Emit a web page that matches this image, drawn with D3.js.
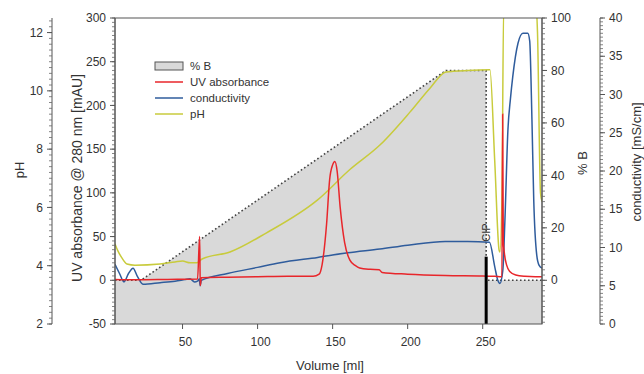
<!DOCTYPE html>
<html>
<head>
<meta charset="utf-8">
<script src="https://cdn.jsdelivr.net/npm/d3@7"></script>
<style>
  body { margin: 0; background: #fff; }
  svg text { font-family: "Liberation Sans", Arial, sans-serif; fill: #333; }
</style>
</head>
<body>
<svg id="chart" width="644" height="374"></svg>
<script>
// gradient %B (volume ml, %)
const percentB = [[5, 0], [22.3, 0], [225.5, 80], [252.3, 80], [252.3, 0], [289.5, 0]];

// UV absorbance @ 280 nm (volume ml, mAU)
const uvData = [
  [5, 1], [20, 0.5], [40, 1], [60, 1.5], [61.4, 50], [61.8, -6], [62.5, 3],
  [80, 3.5], [100, 4], [120, 4.5], [137, 4.5], [141, 7], [143, 18], [146, 65],
  [148, 115], [150, 132], [151.5, 136], [153, 125], [155, 84], [158, 43],
  [161.5, 23], [165, 17], [168, 14], [175, 12.5], [181, 12], [183, 9],
  [200, 7], [225, 5.5], [250, 5], [258, 4.5], [262.8, 4], [263.3, 190],
  [263.7, 45], [264.5, 30], [266, 17], [268, 10], [272, 6], [278, 4.5],
  [285, 4], [289.5, 4]
];

// conductivity (volume ml, mS/cm)
const condData = [
  [5, 7.8], [8, 6.6], [11, 5.5], [14, 6.6], [17, 7.3], [20, 6.2], [23.6, 5.2],
  [35, 5.4], [45, 5.6], [51.6, 5.8], [55, 5.9], [58, 5.5], [60, 5.6], [61.2, 5.9],
  [61.7, 5.0], [62.5, 5.7], [80, 6.6], [100, 7.4], [115, 8.0], [140, 8.7],
  [160, 9.3], [181.5, 9.8], [200, 10.3], [225, 10.8], [240, 10.8], [254.5, 10.7],
  [258, 7.5], [260, 5.75], [261.5, 5.3], [263.4, 7.0], [264.8, 13.6],
  [266.8, 25.4], [268.5, 29.5], [270, 32.3], [273.5, 36.7], [276.8, 38],
  [280, 38], [281.3, 37], [282.8, 26.7], [284, 16.2], [286, 9], [287.5, 7.7],
  [289.5, 7.3]
];

// pH (volume ml, pH)
const phData = [
  [5, 4.75], [7, 4.5], [9.7, 4.26], [13, 4.06], [18.3, 4.02], [35, 4.06],
  [45, 4.13], [50, 4.16], [55, 4.1], [59.6, 4.1], [63, 4.23], [81.6, 4.47],
  [106, 5.13], [140, 6.26], [161.5, 7.3], [181.5, 8.14], [201.5, 9.27],
  [215, 10.1], [225.5, 10.65], [240, 10.7], [254.8, 10.72], [258, 7.6],
  [260.9, 4.54], [261.5, 4.47], [262.8, 6.26], [264, 13], [285.5, 13],
  [286.5, 12], [288.5, 6.5], [289.5, 6.2]
];

const xTicks = [50, 100, 150, 200, 250];
const uvTicks = [-50, 0, 50, 100, 150, 200, 250, 300];
const phTicks = [2, 4, 6, 8, 10, 12];
const bTicks = [0, 20, 40, 60, 80, 100];
const condTicks = [0, 5, 10, 15, 20, 25, 30, 35, 40];

const cipVolume = 252.3;
const cipTop = 27;

const svg = d3.select('#chart');
const pLeft = 115, pRight = 542, pTop = 18, pBottom = 324;

const x = d3.scaleLinear().domain([5, 289.5]).range([pLeft, pRight]);
const yUV = d3.scaleLinear().domain([-50, 300]).range([pBottom, pTop]);
const yB = d3.scaleLinear().domain([-50 / 3, 100]).range([pBottom, pTop]);
const yCond = d3.scaleLinear().domain([0, 40]).range([pBottom, pTop]);
const yPH = d3.scaleLinear().domain([2, 12.5]).range([pBottom, pTop]);

svg.append('defs').append('clipPath').attr('id', 'plot')
  .append('rect')
  .attr('x', pLeft).attr('y', pTop)
  .attr('width', pRight - pLeft).attr('height', pBottom - pTop);

const plot = svg.append('g').attr('clip-path', 'url(#plot)');

// %B area and dotted outline
plot.append('path')
  .datum(percentB)
  .attr('d', d3.area().x(d => x(d[0])).y0(pBottom).y1(d => yB(d[1])))
  .attr('fill', '#d9d9d9');

plot.append('path')
  .datum(percentB)
  .attr('d', d3.line().x(d => x(d[0])).y(d => yB(d[1])))
  .attr('fill', 'none')
  .attr('stroke', '#444')
  .attr('stroke-width', 1.6)
  .attr('stroke-dasharray', '1.6,2.4');

const drawLine = (data, yScale, color) => plot.append('path')
  .datum(data)
  .attr('d', d3.line().curve(d3.curveMonotoneX).x(d => x(d[0])).y(d => yScale(d[1])))
  .attr('fill', 'none')
  .attr('stroke', color)
  .attr('stroke-width', 1.5);

drawLine(phData, yPH, '#c8cb3c');
drawLine(condData, yCond, '#2f5c9c');
drawLine(uvData, yUV, '#e8262b');

// CIP marker
plot.append('line')
  .attr('x1', x(cipVolume)).attr('x2', x(cipVolume))
  .attr('y1', yUV(cipTop)).attr('y2', pBottom)
  .attr('stroke', '#000')
  .attr('stroke-width', 3);

svg.append('text')
  .attr('transform', `translate(${x(cipVolume) + 4},${yUV(cipTop) - 15}) rotate(-90)`)
  .attr('font-size', '11px')
  .text('CIP');

// frame
svg.append('rect')
  .attr('x', pLeft).attr('y', pTop)
  .attr('width', pRight - pLeft).attr('height', pBottom - pTop)
  .attr('fill', 'none')
  .attr('stroke', '#555')
  .attr('stroke-width', 1);

// generic vertical axis drawer
function vAxis(xPos, scale, ticks, minorStep, dir, fmt) {
  const g = svg.append('g');
  const [d0, d1] = scale.domain();
  g.append('line')
    .attr('x1', xPos).attr('x2', xPos)
    .attr('y1', scale(d0)).attr('y2', scale(d1))
    .attr('stroke', '#555');
  const minors = d3.range(Math.ceil(d0 / minorStep) * minorStep, d1 + 1e-9, minorStep);
  g.selectAll('.minor')
    .data(minors)
    .join('line')
    .attr('x1', xPos).attr('x2', xPos + dir * 3)
    .attr('y1', d => scale(d)).attr('y2', d => scale(d))
    .attr('stroke', '#666')
    .attr('stroke-width', 0.8);
  g.selectAll('.major')
    .data(ticks)
    .join('line')
    .attr('x1', xPos).attr('x2', xPos + dir * 5)
    .attr('y1', d => scale(d)).attr('y2', d => scale(d))
    .attr('stroke', '#555');
  g.selectAll('text')
    .data(ticks)
    .join('text')
    .attr('x', xPos + dir * 9)
    .attr('y', d => scale(d))
    .attr('dy', '0.35em')
    .attr('text-anchor', dir < 0 ? 'end' : 'start')
    .attr('font-size', '12px')
    .text(fmt || (d => d));
}

vAxis(52, yPH, phTicks, 0.2, -1);
vAxis(pLeft, yUV, uvTicks, 5, -1);
vAxis(pRight, yB, bTicks, 2, 1);
vAxis(600, yCond, condTicks, 0.5, 1);

// x axis
const xg = svg.append('g');
xg.selectAll('line')
  .data(xTicks)
  .join('line')
  .attr('x1', d => x(d)).attr('x2', d => x(d))
  .attr('y1', pBottom).attr('y2', pBottom + 5)
  .attr('stroke', '#555');
xg.selectAll('text')
  .data(xTicks)
  .join('text')
  .attr('x', d => x(d) + 3)
  .attr('y', pBottom + 22)
  .attr('text-anchor', 'middle')
  .attr('font-size', '12px')
  .text(d => d);

// axis titles
svg.append('text')
  .attr('x', 330).attr('y', 370)
  .attr('text-anchor', 'middle')
  .attr('font-size', '13px')
  .text('Volume [ml]');

const vTitle = (tx, ty, label, size) => svg.append('text')
  .attr('transform', `translate(${tx},${ty}) rotate(-90)`)
  .attr('text-anchor', 'middle')
  .attr('font-size', size)
  .text(label);

vTitle(24, 170, 'pH', '13px');
vTitle(82, 178, 'UV absorbance @ 280 nm [mAU]', '14px');
vTitle(587, 163, '% B', '13px');
vTitle(641, 162, 'conductivity [mS/cm]', '13px');

// legend
const legendItems = ['% B', 'UV absorbance', 'conductivity', 'pH'];
const legendColors = ['#d9d9d9', '#e8262b', '#2f5c9c', '#c8cb3c'];
const lg = svg.append('g').attr('transform', 'translate(155,66)');
legendItems.forEach((name, i) => {
  const yy = i * 16;
  if (i === 0) {
    lg.append('rect')
      .attr('x', 0).attr('y', yy - 4)
      .attr('width', 28).attr('height', 8)
      .attr('fill', legendColors[i])
      .attr('stroke', '#555');
  } else {
    lg.append('line')
      .attr('x1', 0).attr('x2', 28)
      .attr('y1', yy).attr('y2', yy)
      .attr('stroke', legendColors[i])
      .attr('stroke-width', 1.5);
  }
  lg.append('text')
    .attr('x', 35).attr('y', yy)
    .attr('dy', '0.35em')
    .attr('font-size', '11.5px')
    .text(name);
});
</script>
</body>
</html>
